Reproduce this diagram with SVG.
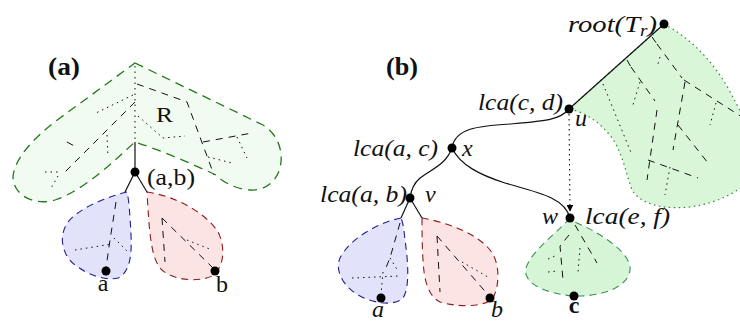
<svg xmlns="http://www.w3.org/2000/svg" width="740" height="322" viewBox="0 0 740 322">
<style>
.ed{fill:none;stroke:#111;stroke-width:1.2}
.da{fill:none;stroke:#111;stroke-width:1;stroke-dasharray:7,6}
.do{fill:none;stroke:#111;stroke-width:1;stroke-dasharray:1.5,4}
.dot{fill:#000}
</style>
<defs>
<marker id="ah" viewBox="0 0 10 10" refX="9" refY="5" markerWidth="6" markerHeight="6" orient="auto"><path d="M0,0 L10,5 L0,10 Z" fill="#000"/></marker>
</defs>

<!-- Panel (a) -->
<g id="label-a"><text x="48" y="75" font-family="Liberation Serif" font-weight="bold" font-size="25" fill="#111" textLength="32" lengthAdjust="spacingAndGlyphs">(a)</text></g>

<g id="regionR">
<path d="M135,63 L263,125 C278,134 284,152 280,168 C276,183 263,191 250,190 C236,189 224,183 216,175 C190,163 160,150 135,142 C115,160 85,190 55,200 C35,206 14,196 13,178 C13,162 30,140 60,118 Z" fill="#f1fbf1" stroke="#237a1a" stroke-width="1.3" stroke-dasharray="9,6"/>
<path class="do" d="M135,66 L135,140"/>
<path class="da" d="M137,84 L187,102 L214,175"/>
<path class="da" d="M203,142 L252,133"/>
<path class="do" d="M237,137 L247,158"/>
<path class="do" d="M208,157 L232,163"/>
<path class="do" d="M138,116 L163,138 L185,136"/>
<path class="do" d="M133,95 L96,113"/>
<path class="da" d="M135,102 L63,174"/>
<path class="da" d="M67,142 L78,148"/>
<path class="do" d="M107,135 L108,157"/>
<path class="do" d="M45,172 L60,172"/>
<path class="do" d="M58,176 L50,190"/>
<text x="156" y="122" font-family="Liberation Serif" font-size="21" fill="#111" textLength="17" lengthAdjust="spacingAndGlyphs">R</text>
</g>

<g id="blob-a1">
<path d="M127,192 C110,196 80,207 68,222 C58,236 62,255 75,265 C88,275 105,281 118,278 C130,272 132,255 131,235 C130,215 129,200 127,192 Z" fill="#e2e2fa" stroke="#1f1f90" stroke-width="1.1" stroke-dasharray="7,5"/>
<path class="da" d="M116,202 L110,240 L106,268"/>
<path class="do" d="M75,250 L112,244"/>
<path class="do" d="M114,238 L128,252"/>
</g>
<g id="blob-b1">
<path d="M147,192 C175,196 205,212 218,232 C226,248 224,268 212,276 C198,283 170,280 160,268 C150,255 149,225 147,192 Z" fill="#fde4e4" stroke="#8e1c1c" stroke-width="1.1" stroke-dasharray="7,5"/>
<path class="da" d="M162,218 L165,262"/>
<path class="da" d="M162,218 L213,268"/>
<path class="do" d="M187,240 L212,250"/>
</g>

<g id="connectors-a">
<path class="ed" d="M135,142 L135,172"/>
<path class="ed" d="M135,172 L125,192"/>
<path class="ed" d="M135,172 L147,192"/>
</g>

<g id="node-ab"><circle class="dot" cx="135" cy="172" r="4.5"/><text x="147" y="185" font-family="Liberation Serif" font-size="24" fill="#111" textLength="48" lengthAdjust="spacingAndGlyphs">(a,b)</text></g>
<g id="node-a1"><circle class="dot" cx="106" cy="271" r="4.5"/><text x="103" y="291" font-family="Liberation Serif" font-size="24" fill="#111" text-anchor="middle">a</text></g>
<g id="node-b1"><circle class="dot" cx="215" cy="271" r="4.5"/><text x="222" y="292" font-family="Liberation Serif" font-size="24" fill="#111" text-anchor="middle">b</text></g>

<!-- Panel (b) -->
<g id="label-b"><text x="386" y="75" font-family="Liberation Serif" font-weight="bold" font-size="25" fill="#111" textLength="32" lengthAdjust="spacingAndGlyphs">(b)</text></g>

<g id="regionTr">
<path d="M664,24 C690,38 712,60 728,88 C740,110 748,125 750,140 L750,180 C740,190 720,203 690,207 C660,210 640,203 632,190 C625,170 622,152 612,138 C600,122 585,112 569,109 Z" fill="#d9f6d9" stroke="#2f8a2f" stroke-width="1.2" stroke-dasharray="1.5,3.5"/>
<path class="da" d="M652,37 L657,44 M627,60 L631,67"/>
<path class="do" d="M603,84 L632,155"/>
<path class="da" d="M631,67 L655,101"/>
<path class="do" d="M640,82 L632,108"/>
<path class="da" d="M657,110 L647,180"/>
<path class="da" d="M648,160 L698,178"/>
<path class="do" d="M670,167 L665,195"/>
<path class="da" d="M657,44 L682,78"/>
<path class="do" d="M660,57 L657,67"/>
<path class="da" d="M685,82 L673,150"/>
<path class="da" d="M684,80 L742,117"/>
<path class="da" d="M678,125 L708,163"/>
<path class="do" d="M716,103 L710,125"/>
</g>

<g id="blob-a2">
<path d="M401,218 C380,222 350,238 340,258 C334,272 345,288 360,296 C375,304 395,306 403,298 C410,288 408,260 405,240 C404,230 403,222 401,218 Z" fill="#e2e2fa" stroke="#1f1f90" stroke-width="1.1" stroke-dasharray="7,5"/>
<path class="da" d="M400,223 L390,258 L385,270"/>
<path class="do" d="M390,258 L398,271"/>
<path class="do" d="M352,278 L400,276"/>
<path class="do" d="M383,272 L381,294"/>
</g>
<g id="blob-b2">
<path d="M422,218 C445,222 475,232 490,250 C500,262 500,285 493,298 C485,308 455,307 440,302 C428,296 424,280 423,260 C422,245 422,230 422,218 Z" fill="#fde4e4" stroke="#8e1c1c" stroke-width="1.1" stroke-dasharray="7,5"/>
<path class="da" d="M437,236 L440,292"/>
<path class="da" d="M437,236 L490,297"/>
<path class="do" d="M462,262 L488,277"/>
</g>
<g id="cone-c">
<path d="M570,218 C555,235 532,250 526,268 C522,285 550,294 573,296 C600,297 628,288 630,270 C632,255 605,235 575,222 Z" fill="#d6f5d6" stroke="#3b8f5a" stroke-width="1.1" stroke-dasharray="7,5"/>
<path class="da" d="M575,225 L597,263"/>
<path class="da" d="M569,235 L560,246 L563,280"/>
<path class="do" d="M580,248 L578,272"/>
<path class="do" d="M548,259 L555,256"/>
<path class="do" d="M548,272 L557,271"/>
</g>

<g id="connectors-b">
<path class="ed" d="M569,109 L664,24"/>
<path class="ed" d="M452,148 C455,128 478,126 510,124 C545,121 560,120 569,109"/>
<path class="ed" d="M452,148 C460,165 480,175 505,183 C540,193 565,198 570,218"/>
<path class="ed" d="M452,148 C446,165 430,170 420,178 C413,184 411,190 410,198"/>
<path class="ed" d="M410,198 L401,218"/>
<path class="ed" d="M410,198 L422,218"/>
<path d="M569,114 L570,211" fill="none" stroke="#111" stroke-width="1.1" stroke-dasharray="1.5,3.5" marker-end="url(#ah)"/>
</g>

<g font-family="Liberation Serif" font-style="italic" font-size="24" fill="#111">
<g id="node-root"><circle class="dot" cx="664" cy="24" r="4.5"/><text x="568" y="32" textLength="89" lengthAdjust="spacingAndGlyphs">root(T<tspan font-size="16" dy="4">r</tspan><tspan dy="-4">)</tspan></text></g>
<g id="node-u"><circle class="dot" cx="569" cy="109" r="4.5"/><text x="478" y="110" textLength="85" lengthAdjust="spacingAndGlyphs">lca(c, d)</text><text x="575" y="126">u</text></g>
<g id="node-x"><circle class="dot" cx="452" cy="148" r="4.5"/><text x="353" y="156" textLength="85" lengthAdjust="spacingAndGlyphs">lca(a, c)</text><text x="462" y="156">x</text></g>
<g id="node-v"><circle class="dot" cx="410" cy="198" r="4.5"/><text x="320" y="202" textLength="87" lengthAdjust="spacingAndGlyphs">lca(a, b)</text><text x="425" y="202">v</text></g>
<g id="node-w"><circle class="dot" cx="570" cy="218" r="4.5"/><text x="542" y="224">w</text><text x="585" y="224" textLength="85" lengthAdjust="spacingAndGlyphs">lca(e, f)</text></g>
<g id="node-a2"><circle class="dot" cx="381" cy="298" r="4.5"/><text x="378" y="317" text-anchor="middle">a</text></g>
<g id="node-b2"><circle class="dot" cx="490" cy="298" r="4.5"/><text x="497" y="317" text-anchor="middle">b</text></g>
<g id="node-c"><circle class="dot" cx="574" cy="296" r="4.5"/><text x="574" y="313" text-anchor="middle" font-style="normal" font-weight="bold">c</text></g>
</g>
</svg>
